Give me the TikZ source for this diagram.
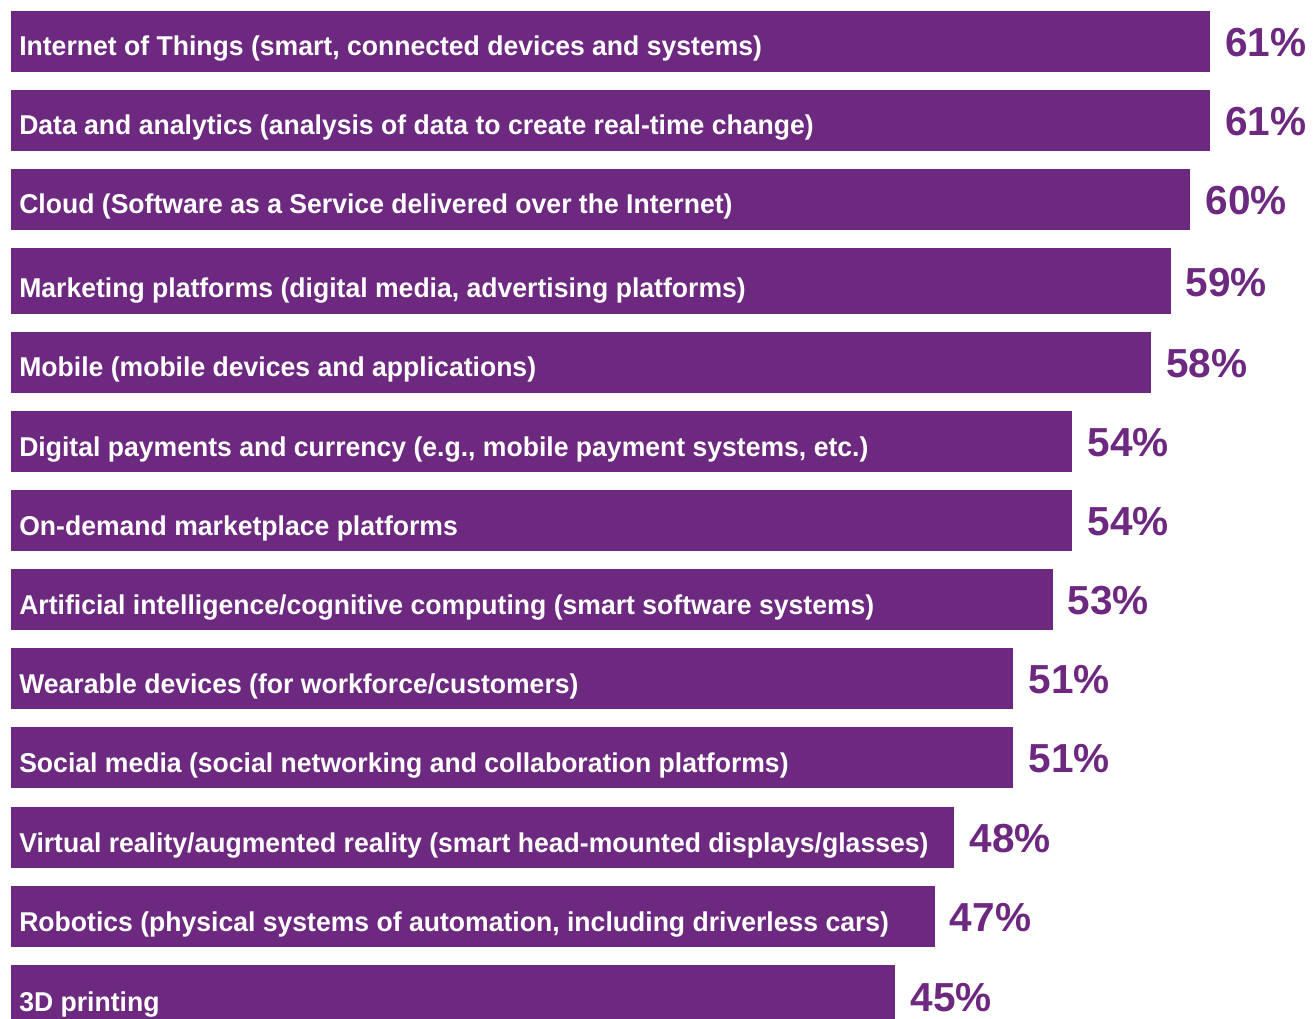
\documentclass[tikz,border=0pt]{standalone}
\usepackage{fontspec}
\setmainfont{Liberation Sans}
\newfontfamily\barfont[FakeStretch=0.977]{Liberation Sans}
\usetikzlibrary{positioning}
\definecolor{kpurple}{RGB}{109,40,128}
\tikzset{
bar/.style = {fill=kpurple, rectangle, inner sep=0pt, outer sep=0pt, anchor=north west},
barlabel/.style = {text=white, font=\barfont\bfseries\fontsize{20.4}{24}\selectfont, inner sep=0pt, anchor=base west},
pct/.style = {text=kpurple, font=\bfseries\fontsize{30.4}{36}\selectfont, inner sep=0pt, anchor=base west}
}

\begin{document}
\begin{tikzpicture}[x=0.75pt, y=-0.75pt]
\useasboundingbox (0,0) rectangle (1313,1019);
% one bar per row: top/bottom (px), value, label
\foreach \top/\bot/\val/\txt [count=\i] in {
  11/72/61/{Internet of Things (smart, connected devices and systems)},
  90/151/61/{Data and analytics (analysis of data to create real-time change)},
  169/230/60/{Cloud (Software as a Service delivered over the Internet)},
  248/314/59/{Marketing platforms (digital media, advertising platforms)},
  332/393/58/{Mobile (mobile devices and applications)},
  411/472/54/{Digital payments and currency (e.g., mobile payment systems, etc.)},
  490/551/54/{On-demand marketplace platforms},
  569/630/53/{Artificial intelligence/cognitive computing (smart software systems)},
  648/709/51/{Wearable devices (for workforce/customers)},
  727/788/51/{Social media (social networking and collaboration platforms)},
  807/868/48/{Virtual reality/augmented reality (smart head-mounted displays/glasses)},
  886/947/47/{Robotics (physical systems of automation, including driverless cars)},
  965/1027/45/{3D printing}}
{
  \node[bar, minimum width=\val*14.741pt, minimum height={(\bot-\top)*0.75pt}] (bar\i) at (11,\top) {};
  \node[barlabel] (lbl\i) at ([xshift=6pt, yshift=12pt]bar\i.south west) {\txt};
  \node[pct] (pct\i) at ([xshift=11.2pt, yshift=-11.4pt]bar\i.east) {\val\%};
}
\end{tikzpicture}
\end{document}
